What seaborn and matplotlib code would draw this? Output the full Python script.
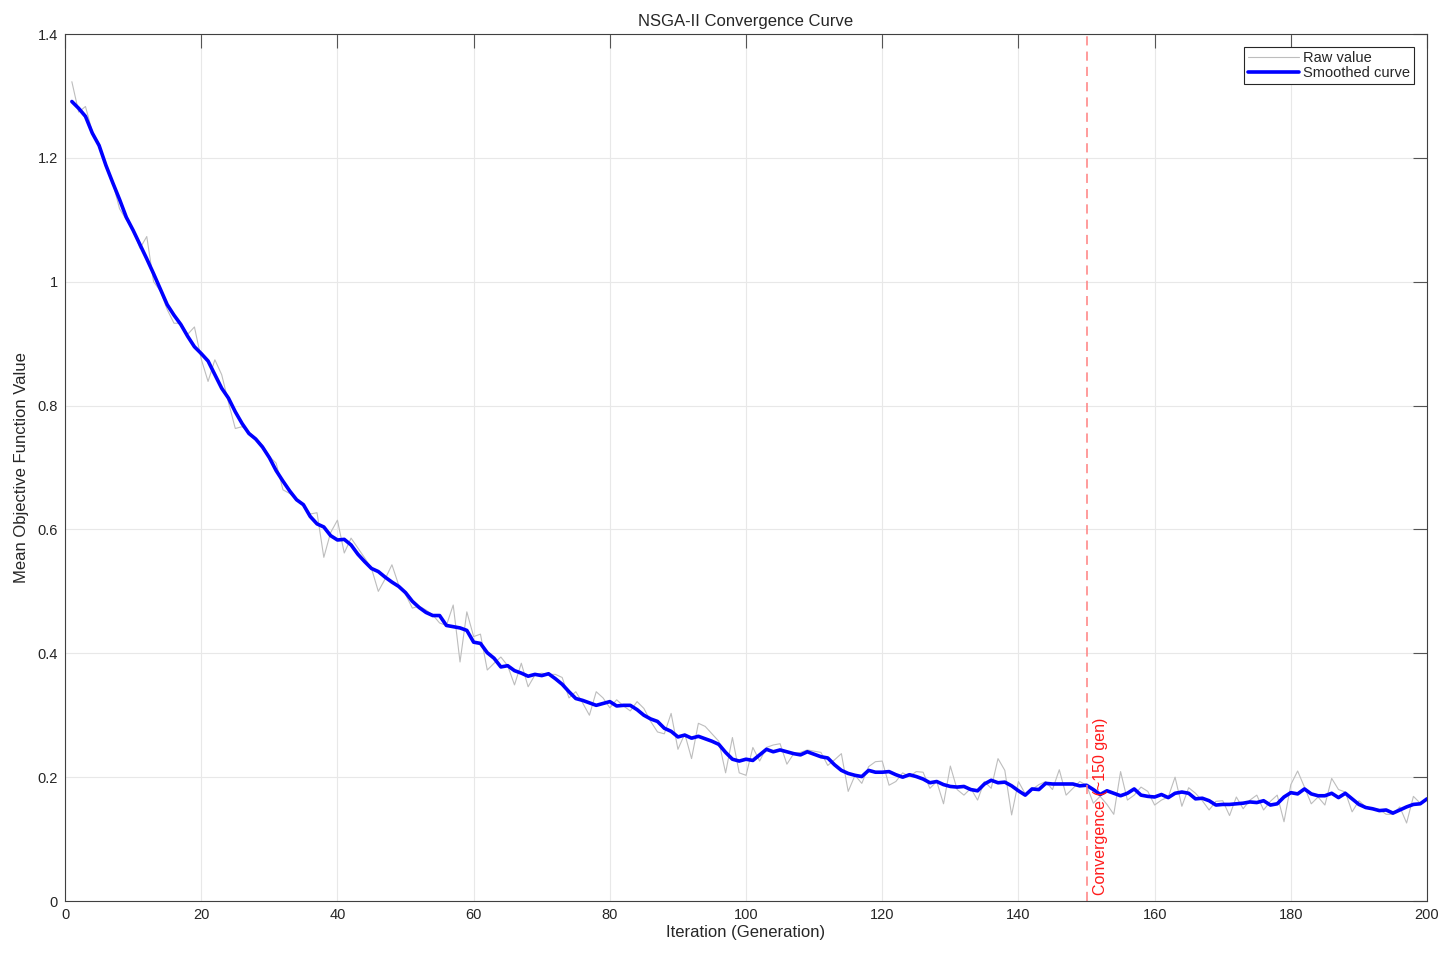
import numpy as np
import pandas as pd
import seaborn as sns
from matplotlib import pyplot as plt
import matplotlib.ticker as mtick

# Generations 1..200
generations = list(range(1, 201))

# Raw mean objective value per generation
raw_values = [
    1.323, 1.274, 1.283, 1.242, 1.222, 1.185, 1.160, 1.118, 1.100, 1.085,
    1.054, 1.073, 1.000, 0.985, 0.955, 0.933, 0.933, 0.915, 0.927, 0.875,
    0.839, 0.874, 0.850, 0.805, 0.763, 0.766, 0.757, 0.747, 0.736, 0.718,
    0.707, 0.664, 0.658, 0.648, 0.640, 0.625, 0.627, 0.555, 0.595, 0.615,
    0.562, 0.586, 0.570, 0.554, 0.537, 0.500, 0.520, 0.543, 0.510, 0.495,
    0.473, 0.476, 0.470, 0.462, 0.449, 0.445, 0.478, 0.386, 0.467, 0.427,
    0.431, 0.373, 0.384, 0.394, 0.380, 0.349, 0.384, 0.346, 0.365, 0.368,
    0.366, 0.366, 0.361, 0.328, 0.338, 0.320, 0.300, 0.338, 0.328, 0.312,
    0.325, 0.315, 0.307, 0.322, 0.311, 0.290, 0.273, 0.270, 0.303, 0.245,
    0.270, 0.230, 0.287, 0.282, 0.270, 0.258, 0.207, 0.264, 0.207, 0.203,
    0.248, 0.226, 0.248, 0.252, 0.254, 0.221, 0.238, 0.240, 0.244, 0.242,
    0.240, 0.219, 0.228, 0.238, 0.177, 0.203, 0.190, 0.217, 0.225, 0.226,
    0.187, 0.193, 0.207, 0.201, 0.209, 0.208, 0.182, 0.193, 0.157, 0.218,
    0.180, 0.171, 0.182, 0.163, 0.193, 0.182, 0.230, 0.211, 0.139, 0.193,
    0.173, 0.180, 0.188, 0.193, 0.180, 0.212, 0.171, 0.182, 0.193, 0.187,
    0.158, 0.169, 0.156, 0.140, 0.209, 0.163, 0.171, 0.184, 0.177, 0.155,
    0.163, 0.168, 0.200, 0.153, 0.183, 0.174, 0.162, 0.147, 0.161, 0.162,
    0.138, 0.168, 0.149, 0.163, 0.171, 0.147, 0.161, 0.171, 0.128, 0.188,
    0.210, 0.184, 0.157, 0.168, 0.155, 0.198, 0.180, 0.176, 0.144, 0.162,
    0.152, 0.149, 0.148, 0.140, 0.140, 0.152, 0.126, 0.169, 0.158, 0.165,
]

# Smoothed curve per generation
smoothed_values = [
    1.291, 1.280, 1.267, 1.240, 1.220, 1.188, 1.160, 1.133, 1.104, 1.083,
    1.060, 1.037, 1.013, 0.988, 0.963, 0.946, 0.931, 0.912, 0.895, 0.884,
    0.872, 0.850, 0.828, 0.812, 0.790, 0.771, 0.755, 0.746, 0.733, 0.716,
    0.695, 0.678, 0.662, 0.648, 0.640, 0.621, 0.609, 0.604, 0.590, 0.583,
    0.584, 0.575, 0.560, 0.548, 0.537, 0.532, 0.523, 0.515, 0.508, 0.498,
    0.484, 0.474, 0.466, 0.461, 0.461, 0.445, 0.443, 0.441, 0.437, 0.418,
    0.416, 0.401, 0.392, 0.378, 0.380, 0.372, 0.368, 0.363, 0.366, 0.364,
    0.367, 0.359, 0.350, 0.338, 0.327, 0.324, 0.320, 0.316, 0.319, 0.322,
    0.315, 0.316, 0.316, 0.309, 0.300, 0.294, 0.290, 0.279, 0.274, 0.265,
    0.268, 0.263, 0.266, 0.262, 0.258, 0.253, 0.240, 0.229, 0.226, 0.229,
    0.227, 0.236, 0.245, 0.241, 0.244, 0.241, 0.238, 0.236, 0.241, 0.237,
    0.233, 0.231, 0.220, 0.211, 0.206, 0.203, 0.201, 0.211, 0.208, 0.208,
    0.209, 0.204, 0.200, 0.204, 0.201, 0.197, 0.191, 0.193, 0.188, 0.185,
    0.184, 0.185, 0.180, 0.178, 0.189, 0.195, 0.191, 0.192, 0.186, 0.178,
    0.171, 0.181, 0.180, 0.190, 0.189, 0.189, 0.189, 0.189, 0.186, 0.187,
    0.180, 0.172, 0.178, 0.174, 0.170, 0.174, 0.181, 0.171, 0.169, 0.168,
    0.172, 0.167, 0.174, 0.176, 0.174, 0.165, 0.166, 0.162, 0.155, 0.156,
    0.156, 0.157, 0.158, 0.160, 0.159, 0.162, 0.155, 0.157, 0.168, 0.175,
    0.173, 0.181, 0.173, 0.170, 0.170, 0.174, 0.167, 0.174, 0.165, 0.156,
    0.151, 0.149, 0.146, 0.147, 0.142, 0.147, 0.152, 0.156, 0.157, 0.165,
]

convergence_gen = 150
x_ticks = list(range(0, 201, 20))
y_ticks = [0, 0.2, 0.4, 0.6, 0.8, 1.0, 1.2, 1.4]

sns.set_style("white")
plt.rcParams['font.family'] = ['Liberation Sans', 'DejaVu Sans']
plt.rcParams.update({'font.size': 11})


def main():
    df = pd.DataFrame({'gen': generations, 'raw': raw_values, 'smooth': smoothed_values})

    fig = plt.figure(figsize=(14.52, 9.61), dpi=100)
    ax = fig.add_axes([0.0448, 0.0624, 0.938, 0.9022])

    sns.lineplot(data=df, x='gen', y='raw', ax=ax, color='#bdbdbd', linewidth=0.8,
                 label='Raw value', errorbar=None)
    sns.lineplot(data=df, x='gen', y='smooth', ax=ax, color='#0000ff', linewidth=2.6,
                 label='Smoothed curve', errorbar=None)

    # Convergence marker
    ax.axvline(convergence_gen, color='#ff8080', linestyle=(0, (6, 4)), linewidth=1.1)
    ax.text(convergence_gen + 0.9, 0.01, 'Convergence (~150 gen)', rotation=90,
            color='#ff1a1a', fontsize=11.5, ha='left', va='bottom')

    ax.set_xlim(0, 200)
    ax.set_ylim(0, 1.4)
    ax.set_xticks(x_ticks)
    ax.set_yticks(y_ticks)
    ax.yaxis.set_major_formatter(mtick.FormatStrFormatter('%g'))
    ax.set_title('NSGA-II Convergence Curve', fontsize=12, pad=6)
    ax.set_xlabel('Iteration (Generation)', fontsize=12, labelpad=2)
    ax.set_ylabel('Mean Objective Function Value', fontsize=12, labelpad=6)

    # MATLAB-like box and ticks
    ax.grid(True, color='#e8e8e8', linewidth=0.8)
    ax.tick_params(direction='in', length=10, width=0.8, top=True, right=True,
                   color='#555555', labelsize=10.5, labelcolor='#262626', pad=5)
    for spine in ax.spines.values():
        spine.set_color('#404040')
        spine.set_linewidth(0.8)

    leg = ax.legend(loc='upper right', fontsize=10.5, frameon=True, fancybox=False,
                    handlelength=3.5, borderpad=0.25, labelspacing=0.1,
                    handletextpad=0.3, borderaxespad=0.9, framealpha=1)
    leg.get_frame().set_edgecolor('#262626')
    leg.get_frame().set_linewidth(0.8)

    plt.savefig('out.png', dpi=100)


if __name__ == "__main__":
    main()
